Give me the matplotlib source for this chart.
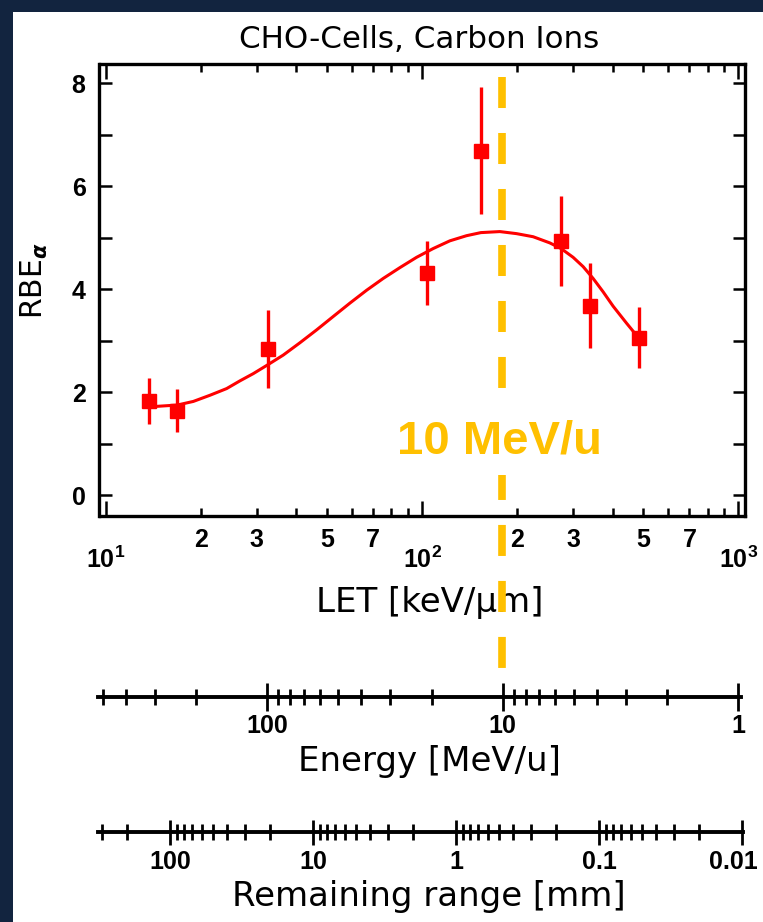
import numpy as np
import matplotlib.pyplot as plt
from matplotlib.patches import Rectangle
from matplotlib.transforms import ScaledTranslation
from matplotlib.ticker import FixedLocator, FuncFormatter, LogLocator, MultipleLocator, NullFormatter

W, H = 763, 922

# measured RBE values (CHO cells, carbon ions)
let_pts = [13.73, 16.80, 32.49, 103.3, 153.4, 275.1, 339.0, 483.2]
rbe_pts = [1.83, 1.64, 2.84, 4.32, 6.69, 4.94, 3.68, 3.06]
rbe_err = [0.45, 0.42, 0.76, 0.62, 1.23, 0.87, 0.83, 0.60]

# fitted curve
fit_let = [14.14, 16.84, 18.92, 21.36, 24.12, 26.57, 29.27, 32.49, 36.40, 41.11,
           46.42, 52.38, 59.14, 66.78, 75.38, 85.11, 96.08, 108.4, 122.4, 138.2,
           153.4, 176.1, 198.9, 224.4, 253.4, 275.1, 300.2, 322.8, 347.2, 373.4,
           401.7, 442.9, 484.2]
fit_rbe = [1.72, 1.75, 1.82, 1.94, 2.07, 2.22, 2.36, 2.53, 2.72, 2.96,
           3.21, 3.47, 3.73, 3.98, 4.21, 4.42, 4.62, 4.79, 4.94, 5.04,
           5.10, 5.12, 5.08, 5.02, 4.90, 4.79, 4.62, 4.44, 4.21, 3.95,
           3.67, 3.34, 3.05]

let_10mev = 179.1
energy_ticks = [100, 10, 1]
range_ticks = [100, 10, 1, 0.1, 0.01]

tick_font = 'Liberation Sans'
plt.rcParams['font.family'] = [tick_font, 'DejaVu Sans']
plt.rcParams['font.weight'] = 'bold'
plt.rcParams['mathtext.fontset'] = 'custom'
plt.rcParams['mathtext.rm'] = tick_font + ':bold'
plt.rcParams['mathtext.bf'] = tick_font + ':bold'
plt.rcParams['mathtext.it'] = 'DejaVu Sans:italic'


def fx(px):
    return px / W


def fy(py):
    return 1 - py / H


label_kw = dict(fontsize=24.5, family='DejaVu Sans', weight='normal')

fig = plt.figure(figsize=(W / 100, H / 100), dpi=100, facecolor='#12243f')
fig.add_artist(Rectangle((fx(13), 0), 1 - fx(13), fy(12), transform=fig.transFigure,
                         facecolor='white', edgecolor='none', zorder=-10))

# main panel
ax = fig.add_axes([fx(99.5), fy(515.7), (744.5 - 99.5) / W, (515.7 - 64.3) / H])
ax.set_xscale('log')
ax.set_xlim(9.56, 1045)
ax.set_ylim(-0.40, 8.37)

ax.plot(fit_let, fit_rbe, color='red', lw=2.2, zorder=3)
ax.errorbar(let_pts, rbe_pts, yerr=rbe_err, fmt='s', color='red', ms=9.6,
            elinewidth=2.4, capsize=0, zorder=4)

ln, = ax.plot([let_10mev, let_10mev], [8.13, -3.36], color='#FFC000', lw=5.5,
              clip_on=False, zorder=6)
ln.set_dashes([4.06, 3.27])
ax.text(176.1, 0.81, '10 MeV/u', color='#FFC000', fontsize=34, weight='bold',
        family='Liberation Sans', ha='center', va='baseline', zorder=7,
        bbox=dict(facecolor='white', edgecolor='none', pad=8))

ax.set_yticks(range(0, 9, 2))
ax.yaxis.set_minor_locator(MultipleLocator(1))
ax.xaxis.set_major_locator(LogLocator(base=10))
ax.xaxis.set_minor_locator(LogLocator(base=10, subs=np.arange(2, 10), numticks=50))
ax.xaxis.set_major_formatter(FuncFormatter(lambda v, p: r'$10^{%d}$' % round(np.log10(v))))


def minor_label(v, p):
    m = int(round(v / 10 ** np.floor(np.log10(v) + 1e-9)))
    return str(m) if m in (2, 3, 5, 7) else ''


ax.xaxis.set_minor_formatter(FuncFormatter(minor_label))
ax.tick_params(which='both', direction='in', top=True, right=True, width=1.8,
               labelsize=18)
ax.tick_params(axis='x', which='major', length=11, pad=22)
ax.tick_params(axis='x', which='minor', length=6, pad=8.9)
ax.tick_params(axis='y', which='both', length=9, pad=10)
for s in ax.spines.values():
    s.set_linewidth(2.4)

ax.set_xlabel('LET [keV/μm]', **label_kw)
ax.xaxis.set_label_coords(fx(430), fy(585.8), transform=fig.transFigure)
ax.set_ylabel(r'RBE$_\alpha$', fontsize=21.5, family='DejaVu Sans', weight='normal')
ax.yaxis.set_label_coords(fx(50), fy(281), transform=fig.transFigure)

fig.text(fx(419), fy(48), 'CHO-Cells, Carbon Ions', ha='center', va='baseline',
         fontsize=22.3, family='DejaVu Sans', weight='normal')


def side_axis(y_px, right_px, lim, ticks, label, pad, major_len, label_top):
    a = fig.add_axes([fx(97.7), fy(y_px), (right_px - 97.7) / W, 0.0001])
    a.patch.set_visible(False)
    a.set_xscale('log')
    a.set_xlim(*lim)
    for s in ['top', 'left', 'right']:
        a.spines[s].set_visible(False)
    a.spines['bottom'].set_linewidth(2.8)
    a.set_yticks([])
    a.xaxis.set_major_locator(FixedLocator(ticks))
    a.xaxis.set_major_formatter(FuncFormatter(lambda v, p: '%g' % v))
    a.xaxis.set_minor_locator(LogLocator(base=10, subs=np.arange(2, 10), numticks=50))
    a.xaxis.set_minor_formatter(NullFormatter())
    a.tick_params(which='major', direction='inout', length=major_len, width=2,
                  pad=pad, labelsize=18)
    a.tick_params(which='minor', direction='inout', length=12, width=2)
    a.set_xlabel(label, **label_kw)
    a.xaxis.set_label_coords(fx(429), fy(label_top), transform=fig.transFigure)
    return a


side_axis(696.7, 741, (525, 0.974), energy_ticks, 'Energy [MeV/u]', 2.4, 20, 744.5)
ax_r = side_axis(831.7, 742.5, (321, 0.00995), range_ticks, 'Remaining range [mm]', 4.3, 18, 880)

# keep the last range label inside the picture
last = ax_r.xaxis.get_major_ticks()[-1].label1
last.set_transform(last.get_transform() + ScaledTranslation(-6 / 72, 0, fig.dpi_scale_trans))

fig.savefig('out.png', dpi=100, facecolor=fig.get_facecolor())
